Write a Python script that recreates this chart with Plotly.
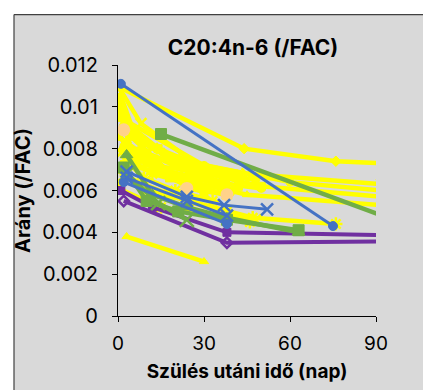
import plotly.graph_objects as go

# ---- data (days after birth, ratio /FAC) ----
yellow_x = [
    [1, 44, 76, 92],
    [0, 5, 20, 45, 92],
    [2, 30, 60, 92],
    [3, 25, 50, 92],
    [1, 20, 45, 92],
    [0, 8, 30],
    [2, 15, 28, 40],
    [3, 12, 25, 38],
    [0, 15, 46],
    [3, 30],
    [1, 10, 25, 38, 47, 76],
    [2, 18, 35, 48],
    [0, 6, 20, 36],
    [1, 10, 26, 42],
    [3, 8, 22, 38],
    [1, 12, 28, 44],
    [4, 16, 33, 50],
    [2, 4, 14, 24],
    [0, 10, 18, 30],
    [3, 9, 20, 33],
    [1, 5, 16, 28],
    [0, 3, 12, 40],
    [2, 7, 24, 48],
    [4, 14, 30, 42],
]
yellow_y = [
    [0.0109, 0.0080, 0.0074, 0.0073],
    [0.0097, 0.0085, 0.0075, 0.0068, 0.0063],
    [0.0094, 0.0072, 0.0064, 0.0060],
    [0.0089, 0.0070, 0.0062, 0.0057],
    [0.0085, 0.0066, 0.0058, 0.0053],
    [0.0110, 0.0092, 0.0070],
    [0.0080, 0.0070, 0.0066, 0.0060],
    [0.0076, 0.0068, 0.0063, 0.0058],
    [0.0061, 0.0052, 0.0045],
    [0.0038, 0.0026],
    [0.0070, 0.0060, 0.0055, 0.0050, 0.0047, 0.0044],
    [0.0067, 0.0058, 0.0050, 0.0046],
    [0.0102, 0.0088, 0.0072, 0.0064],
    [0.0095, 0.0078, 0.0068, 0.0062],
    [0.0083, 0.0075, 0.0067, 0.0063],
    [0.0078, 0.0072, 0.0069, 0.0066],
    [0.0072, 0.0068, 0.0064, 0.0061],
    [0.0092, 0.0081, 0.0070, 0.0066],
    [0.0086, 0.0073, 0.0066, 0.0059],
    [0.0074, 0.0066, 0.0060, 0.0055],
    [0.0105, 0.0090, 0.0078, 0.0070],
    [0.0099, 0.0090, 0.0080, 0.0067],
    [0.0081, 0.0079, 0.0071, 0.0065],
    [0.0087, 0.0080, 0.0071, 0.0067],
]
yellow_symbols = ["diamond", "x-thin", "circle", "square", "triangle-up", "x-thin",
                  "diamond", "asterisk", "asterisk", "triangle-up", "asterisk", "x-thin",
                  "circle", "square", "diamond", "x-thin", "circle", "triangle-up",
                  "square", "asterisk", "diamond", "x-thin", "circle", "square"]

orange_x = [2, 24, 38]
orange_y = [0.0089, 0.0061, 0.0058]

purple_x = [[1, 12, 38, 120], [2, 38, 120]]
purple_y = [[0.0060, 0.0052, 0.0040, 0.0038], [0.0055, 0.0035, 0.0036]]
purple_symbols = ["square", "diamond-open"]

green_x = [[15, 100], [3, 12, 24, 38, 63], [2, 10, 21, 38, 63], [3, 14, 24]]
green_y = [[0.0087, 0.0044], [0.0077, 0.0058, 0.0052, 0.0047, 0.0040],
           [0.0071, 0.0055, 0.0050, 0.0046, 0.0041], [0.0068, 0.0054, 0.0046]]
green_symbols = ["square", "triangle-up", "square", "x-thin"]

blue_x = [[1, 75], [3, 24, 37, 52], [3, 24, 38], [2, 38]]
blue_y = [[0.0111, 0.0043], [0.0069, 0.0057, 0.0053, 0.0051],
          [0.0066, 0.0055, 0.0048], [0.0064, 0.0044]]
blue_symbols = ["circle", "x-thin", "x-thin", "circle"]

x_ticks = [0, 30, 60, 90]
y_ticks = [0, 0.002, 0.004, 0.006, 0.008, 0.010, 0.012]
y_tick_text = ["0", "0.002", "0.004", "0.006", "0.008", "0.01", "0.012"]

YELLOW = "#FFFF00"
BLUE = "#4472C4"
GREEN = "#70AD47"
PURPLE = "#7030A0"
ORANGE = "#FFD28A"
BG = "#D9D9D9"

fig = go.Figure()


def marker_for(sym, color, size=9):
    if sym in ("x-thin", "asterisk"):
        return dict(symbol=sym + "-open", size=size + 3, color=color,
                    line=dict(color=color, width=2.5))
    if sym.endswith("-open"):
        return dict(symbol=sym, size=size, color=color, line=dict(color=color, width=2.5))
    return dict(symbol=sym, size=size, color=color, line=dict(color=color, width=1))


for xs, ys, s in zip(yellow_x, yellow_y, yellow_symbols):
    fig.add_trace(go.Scatter(x=xs, y=ys, mode="lines+markers",
                             line=dict(color=YELLOW, width=4.5),
                             marker=marker_for(s, YELLOW, 8), showlegend=False))

fig.add_trace(go.Scatter(x=orange_x, y=orange_y, mode="lines+markers",
                         line=dict(color=YELLOW, width=4.5),
                         marker=dict(symbol="circle", size=13, color=ORANGE),
                         showlegend=False))

for xs, ys, s in zip(purple_x, purple_y, purple_symbols):
    fig.add_trace(go.Scatter(x=xs, y=ys, mode="lines+markers",
                             line=dict(color=PURPLE, width=4),
                             marker=marker_for(s, PURPLE, 8), showlegend=False))

for xs, ys, s in zip(green_x, green_y, green_symbols):
    fig.add_trace(go.Scatter(x=xs, y=ys, mode="lines+markers",
                             line=dict(color=GREEN, width=4.5),
                             marker=marker_for(s, GREEN, 11), showlegend=False))

for xs, ys, s in zip(blue_x, blue_y, blue_symbols):
    fig.add_trace(go.Scatter(x=xs, y=ys, mode="lines+markers",
                             line=dict(color=BLUE, width=3),
                             marker=marker_for(s, BLUE, 9), showlegend=False))

# white strips outside the chart frame (top and left) + frame border lines
PX = lambda p: (p - 118) / 258      # pixel x -> paper x
PY = lambda p: (319 - p) / 254      # pixel y -> paper y
fig.add_shape(type="rect", xref="paper", yref="paper",
              x0=PX(-5), x1=PX(430), y0=PY(14), y1=PY(-5),
              fillcolor="white", line=dict(width=0), layer="below")
fig.add_shape(type="rect", xref="paper", yref="paper",
              x0=PX(-5), x1=PX(14), y0=PY(400), y1=PY(-5),
              fillcolor="white", line=dict(width=0), layer="below")
fig.add_shape(type="line", xref="paper", yref="paper",
              x0=PX(14), x1=PX(430), y0=PY(14), y1=PY(14),
              line=dict(color="#404040", width=1.2), layer="below")
fig.add_shape(type="line", xref="paper", yref="paper",
              x0=PX(14), x1=PX(14), y0=PY(14), y1=PY(400),
              line=dict(color="#404040", width=1.2), layer="below")

FONT = "Inter"
fig.update_layout(
    width=423, height=390,
    margin=dict(l=118, r=47, t=65, b=71),
    paper_bgcolor=BG,
    plot_bgcolor="rgba(0,0,0,0)",
    showlegend=False,
    title=dict(text="<b>C20:4n-6 (/FAC)</b>", x=253 / 423, xanchor="center",
               y=1 - 48 / 390, yanchor="middle",
               font=dict(family=FONT, size=21, color="black")),
    font=dict(family=FONT, color="black"),
    xaxis=dict(range=[0, 90], tickvals=x_ticks, ticks="outside", ticklen=5,
               tickcolor="black", tickwidth=1.3,
               showline=True, linecolor="black", linewidth=1.3,
               showgrid=False, zeroline=False,
               tickfont=dict(family=FONT, size=19, color="black"),
               ticklabelstandoff=5,
               title=dict(text="<b>Szülés utáni idő (nap)</b>",
                          font=dict(family=FONT, size=19, color="black"),
                          standoff=10)),
    yaxis=dict(range=[0, 0.012], tickvals=y_ticks, ticktext=y_tick_text,
               ticks="outside", ticklen=5, tickcolor="black", tickwidth=1.3,
               showline=True, linecolor="black", linewidth=1.3,
               showgrid=False, zeroline=False,
               tickfont=dict(family=FONT, size=20, color="black"),
               ticklabelstandoff=10,
               title=dict(text="<b>Arány (/FAC)</b>",
                          font=dict(family=FONT, size=20, color="black"),
                          standoff=6)),
)

fig.write_html("out.html")
